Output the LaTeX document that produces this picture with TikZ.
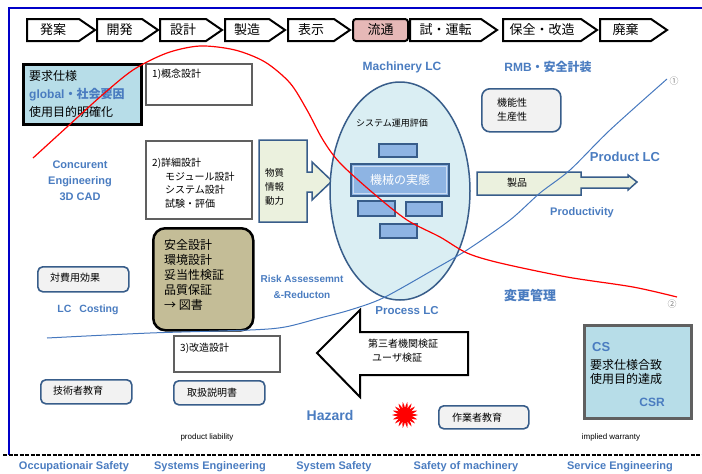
\documentclass[tikz,border=0pt]{standalone}
\usepackage{fontspec}
\setmainfont{Noto Sans CJK JP}
\newfontfamily\lcfont{Liberation Sans}
\usetikzlibrary{shapes.geometric}

\definecolor{frameblue}{RGB}{0,0,200}
\definecolor{lcblue}{RGB}{74,124,192}
\definecolor{boxline}{RGB}{56,93,138}
\definecolor{boxgray}{RGB}{96,96,96}
\definecolor{boxfill}{RGB}{242,242,242}
\definecolor{cyanfill}{RGB}{183,221,232}
\definecolor{ellfill}{RGB}{218,238,243}
\definecolor{blockfill}{RGB}{142,180,227}
\definecolor{olivefill}{RGB}{196,189,151}
\definecolor{arrowfill}{RGB}{235,241,222}
\definecolor{pinkfill}{RGB}{230,184,183}
\definecolor{curveblue}{RGB}{70,120,190}

\tikzset{
  stage/.style={font=\fontsize{13}{13}\selectfont, inner sep=0pt},
  lc/.style={text=lcblue, font=\lcfont\fontsize{11}{16}\bfseries, inner sep=0pt, align=center},
  txt/.style={font=\fontsize{10}{13.5}\selectfont, inner sep=0pt, anchor=north west, align=left},
  gbox/.style={draw=boxgray, line width=2.2pt, fill=white, anchor=north west},
  rbox/.style={draw=boxline, line width=1.6pt, rounded corners=5pt, fill=boxfill, anchor=north west},
  blk/.style={draw=boxline, line width=2.5pt, fill=blockfill, inner sep=0pt},
  marrow/.style={draw=boxline, line width=1.5pt, fill=arrowfill},
}

\begin{document}
\begin{tikzpicture}[x=1pt,y=-1pt]
\useasboundingbox (0,0) rectangle (702,474);

% frame
\draw[frameblue, line width=1.2pt] (702,8) -- (9,8) -- (9,455);
\draw[line width=1.2pt, dash pattern=on 4pt off 1.5pt] (3,455) -- (702,455);

% stages
\foreach \x/\t/\n [count=\i] in {27/95/発案, 97/158/開発, 160/222/設計, 225/285/製造, 288/350/表示, 410/497/試・運転, 503/597/保全・改造, 600/667/廃棄}{
  \draw[line width=2pt, fill=white] (\x,19) -- ({\t-16},19) -- (\t,30) -- ({\t-16},41) -- (\x,41) -- cycle;
  \node[stage] (st\i) at ({(\x+\t-16)/2},30) {\n};
}
\node[stage, draw, line width=2pt, rounded corners=3pt, fill=pinkfill, minimum width=55pt, minimum height=22pt] (flow) at (380.5,30) {流通};

% left column
\node[draw, line width=2.5pt, fill=cyanfill, minimum width=118pt, minimum height=60pt, anchor=north west] (req) at (22,63) {};
\node[txt, font=\fontsize{12}{18}\selectfont] (reqt) at (29,70) {要求仕様\\{\color{lcblue}\bfseries{\lcfont global}・社会要因}\\使用目的明確化};
\node[lc] (ce) at (80,181) {Concurent\\Engineering\\3D CAD};

\node[gbox, minimum width=106pt, minimum height=41pt] (concept) at (145,63) {};
\node[txt] (conceptt) at (152,69) {1)概念設計};
\node[gbox, minimum width=106pt, minimum height=78pt] (detail) at (145,140) {};
\node[txt] (detailt) at (152,158) {2)詳細設計\\\hspace{13pt}モジュール設計\\\hspace{13pt}システム設計\\\hspace{13pt}試験・評価};

\draw[marrow] (259,140) -- (307,140) -- (307,172) -- (312,172) -- (312,162) -- (332,181) -- (312,200) -- (312,192) -- (307,192) -- (307,222) -- (259,222) -- cycle;
\node[txt, font=\fontsize{9.5}{14}\selectfont] (input) at (265,168) {物質\\情報\\動力};

\node[rbox, minimum width=91pt, minimum height=25pt] (cost) at (37,266) {};
\node[font=\fontsize{10}{10}\selectfont, inner sep=0pt] (costt) at (75,278) {対費用効果};
\node[lc, font=\lcfont\fontsize{10.5}{12}\bfseries] (lcc) at (88,310) {LC\hspace{8pt}Costing};

\node[draw, line width=2.5pt, rounded corners=12pt, fill=olivefill, minimum width=100pt, minimum height=102pt, anchor=north west] (safety) at (152,227) {};
\node[txt, font=\fontsize{12}{15}\selectfont] (safetyt) at (164,239) {安全設計\\環境設計\\妥当性検証\\品質保証\\→\ 図書};
\node[lc, font=\lcfont\fontsize{10}{16}\bfseries] (risk) at (302,287) {Risk Assessemnt\\\&-Reducton};

\node[gbox, minimum width=106pt, minimum height=36pt] (modify) at (173,335) {};
\node[txt] (modifyt) at (180,343) {3)改造設計};

\node[rbox, minimum width=91pt, minimum height=24pt] (engedu) at (40,379) {};
\node[font=\fontsize{10}{10}\selectfont, inner sep=0pt] (engedut) at (78,391) {技術者教育};
\node[rbox, minimum width=91pt, minimum height=24pt] (manual) at (173,380) {};
\node[font=\fontsize{10}{10}\selectfont, inner sep=0pt] (manualt) at (212,393) {取扱説明書};

% machinery
\node[ellipse, draw=boxline, line width=1.5pt, fill=ellfill, minimum width=140pt, minimum height=218pt] (machine) at (400,191) {};
\node[lc, font=\lcfont\fontsize{12}{12}\bfseries] (mlc) at (402,67) {Machinery LC};
\node[font=\fontsize{9}{9}\selectfont, inner sep=0pt] (sysev) at (392,123) {システム運用評価};
\node[blk, minimum width=38pt, minimum height=13pt] (b1) at (398,150.5) {};
\node[blk, minimum width=98pt, minimum height=32pt, text=white, font=\fontsize{12}{12}\selectfont] (real) at (400,180) {機械の実態};
\draw[white!55!blockfill, line width=0.8pt] ([shift={(4,4)}]real.north west) rectangle ([shift={(-4,-4)}]real.south east);
\node[blk, minimum width=37pt, minimum height=15pt] (b2) at (376.5,208.5) {};
\node[blk, minimum width=36pt, minimum height=14pt] (b3) at (424,209) {};
\node[blk, minimum width=37pt, minimum height=14pt] (b4) at (398.5,231) {};
\node[lc, font=\lcfont\fontsize{11.5}{12}\bfseries] (plc) at (407,311) {Process LC};

\draw[line width=2pt, fill=white] (468,332) -- (360,332) -- (360,310) -- (317,353) -- (360,397) -- (360,375) -- (468,375) -- cycle;
\node[txt, anchor=west] (third) at (368,344) {第三者機関検証};
\node[txt, anchor=west] (user) at (372,358) {ユーザ検証};

\node[lc, font=\lcfont\fontsize{14}{14}\bfseries] (hazard) at (330,415) {Hazard};
\fill[red] plot[domain=0:360, samples=73] ({405+(10+3*cos(18*\x))*cos(\x)}, {415+(10+3*cos(18*\x))*sin(\x)}) -- cycle;
\node[rbox, minimum width=90pt, minimum height=23pt] (workedu) at (438,405) {};
\node[font=\fontsize{10}{10}\selectfont, inner sep=0pt] (workedut) at (477,418) {作業者教育};

% right column
\node[lc, font=\fontsize{12}{12}\bfseries] (rmb) at (548,67) {{\lcfont RMB}・安全計装};
\node[rbox, rounded corners=8pt, minimum width=79pt, minimum height=43pt] (func) at (481,88) {};
\node[txt] (funct) at (497,98) {機能性\\生産性};
\node[lc, font=\lcfont\fontsize{13}{13}\bfseries] (prlc) at (625,157) {Product LC};
\draw[marrow] (477,172) -- (581,172) -- (581,177) -- (628,177) -- (628,175) -- (637,182) -- (628,190) -- (628,188) -- (581,188) -- (581,195) -- (477,195) -- cycle;
\node[font=\fontsize{10}{10}\selectfont, inner sep=0pt] (product) at (517,183) {製品};
\node[lc] (prod) at (582,213) {Productivity};
\node[lc, font=\fontsize{13}{13}\bfseries] (change) at (530,296) {変更管理};

\node[draw=boxgray, line width=2.5pt, fill=cyanfill, minimum width=107pt, minimum height=93pt, anchor=north west] (cs) at (583,324) {};
\node[lc, font=\lcfont\fontsize{13}{13}\bfseries, anchor=west] (cst) at (592,347) {CS};
\node[txt, font=\fontsize{12}{14.5}\selectfont] (cstxt) at (590,359) {要求仕様合致\\使用目的達成};
\node[lc, font=\lcfont\fontsize{12}{12}\bfseries] (csr) at (652,402) {CSR};

\node[font=\lcfont\fontsize{8}{8}\selectfont, inner sep=0pt] (pl) at (207,437) {product liability};
\node[font=\lcfont\fontsize{8}{8}\selectfont, inner sep=0pt] (iw) at (611,437) {implied warranty};

% bottom
\foreach \x/\n [count=\i] in {74/Occupationair Safety, 210/Systems Engineering, 334/System Safety, 466/Safety of machinery, 620/Service Engineering}
  \node[lc] (fld\i) at (\x,467) {\n};

% curves
\draw[curveblue, line width=1pt] plot[smooth] coordinates {(47,338) (150,333) (250,330) (285,327) (320,318) (350,310) (383,298) (433,270) (467,250) (510,220) (540,193) (570,170) (610,130) (667,79)};
\draw[red, line width=1.2pt] plot[smooth] coordinates {(33,158) (67,127) (100,97) (133,70) (167,53) (200,46) (235,50) (265,62) (290,83) (307,110) (323,140) (340,163) (373,193) (407,220) (440,237) (467,253) (500,263) (567,277) (633,287) (677,297)};
\node[text=gray, font=\fontsize{9}{9}\selectfont, inner sep=0pt] (m1) at (674,81) {①};
\node[text=gray, font=\fontsize{9}{9}\selectfont, inner sep=0pt] (m2) at (672,304) {②};
\end{tikzpicture}
\end{document}
